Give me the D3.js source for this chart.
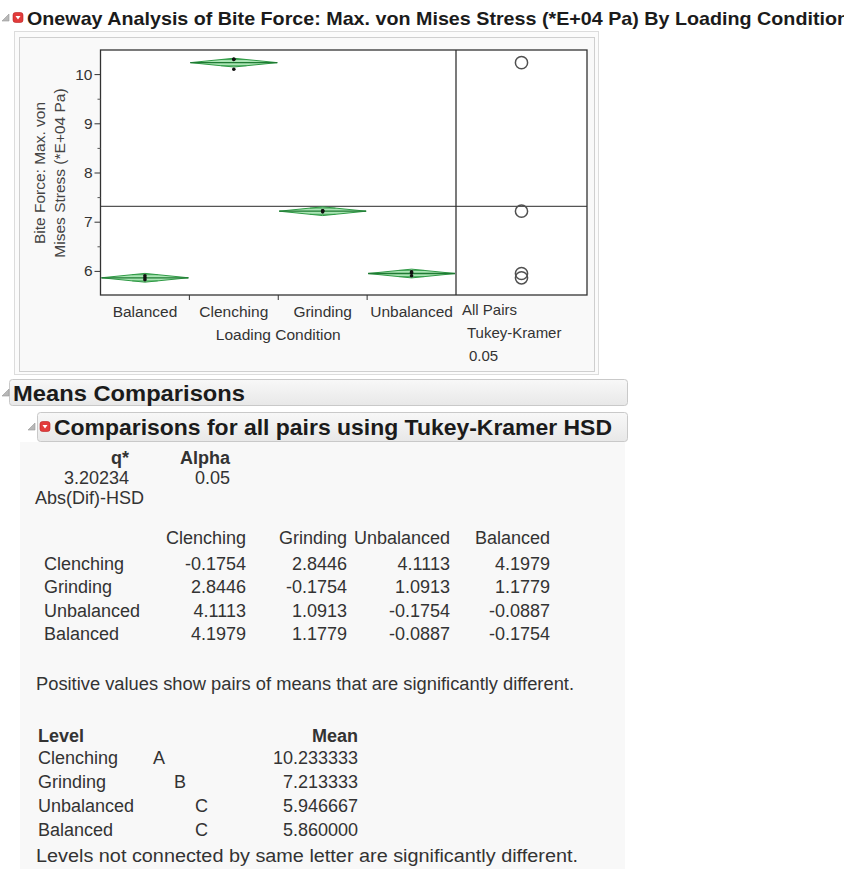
<!DOCTYPE html>
<html><head><meta charset="utf-8">
<script src="https://cdn.jsdelivr.net/npm/d3@7"></script>
<style>
html,body{margin:0;padding:0;background:#fff;}
svg{display:block;font-family:"Liberation Sans",Arial,sans-serif;}
</style></head><body>
<svg id="c" width="844" height="869"></svg>
<script>
// ---------- data ----------
const categories = ["Balanced", "Clenching", "Grinding", "Unbalanced"];
const groupMeans = [5.86, 10.233333, 7.213333, 5.946667];
const groupPoints = [[5.82, 5.86, 5.90], [10.3, 10.3, 10.1], [7.2, 7.22, 7.22], [5.9, 5.96, 5.98]];
const ciHalfWidth = [0.089, 0.089, 0.089, 0.089];
const grandMean = 7.313333;
const circleRadius = 0.124;
const yTicks = [6, 7, 8, 9, 10];
const yMinorTicks = [6.5, 7.5, 8.5, 9.5];
const yDomain = [5.51, 10.49];

const titleText = "Oneway Analysis of Bite Force: Max. von Mises Stress (*E+04 Pa) By Loading Condition";
const yLabelLines = ["Bite Force: Max. von", "Mises Stress (*E+04 Pa)"];
const xLabel = "Loading Condition";
const compLabels = ["All Pairs", "Tukey-Kramer", "0.05"];

const qHeaders = ["q*", "Alpha"];
const qValues = ["3.20234", "0.05"];
const hsdLevels = ["Clenching", "Grinding", "Unbalanced", "Balanced"];
const hsdMatrix = [
  [-0.1754, 2.8446, 4.1113, 4.1979],
  [2.8446, -0.1754, 1.0913, 1.1779],
  [4.1113, 1.0913, -0.1754, -0.0887],
  [4.1979, 1.1779, -0.0887, -0.1754]
];
const letterLevels = ["Clenching", "Grinding", "Unbalanced", "Balanced"];
const letters = ["A", "B", "C", "C"];
const letterCols = [0, 1, 2, 2];
const letterMeans = ["10.233333", "7.213333", "5.946667", "5.860000"];

// ---------- drawing ----------
const svg = d3.select("#c");
const defs = svg.append("defs");
const hg = defs.append("linearGradient").attr("id", "hdr").attr("x1", 0).attr("y1", 0).attr("x2", 0).attr("y2", 1);
hg.append("stop").attr("offset", "0").attr("stop-color", "#f8f8f8");
hg.append("stop").attr("offset", "1").attr("stop-color", "#e8e8e8");

function tri(x, y) { // disclosure triangle
  svg.append("path").attr("d", `M${x + 7},${y} L${x + 7},${y + 7} L${x},${y + 7} Z`)
    .attr("fill", "#b8b8b8").attr("stroke", "#999").attr("stroke-width", 0.6);
}
function redIcon(x, y) {
  svg.append("rect").attr("x", x).attr("y", y).attr("width", 10).attr("height", 10).attr("rx", 2.5)
    .attr("fill", "#e23b3b").attr("stroke", "#b22").attr("stroke-width", 0.6);
  svg.append("path").attr("d", `M${x + 2.5},${y + 3.5} L${x + 7.5},${y + 3.5} L${x + 5},${y + 7} Z`).attr("fill", "#fff");
}

// Title
tri(2, 14);
redIcon(13, 12.5);
svg.append("text").attr("x", 27).attr("y", 24.5).attr("font-size", 18.5).attr("font-weight", "bold")
  .attr("fill", "#1b1b1b").attr("textLength", 822).attr("lengthAdjust", "spacingAndGlyphs").text(titleText);

// Panel boxes
svg.append("rect").attr("x", 14.5).attr("y", 31.5).attr("width", 584).attr("height", 343)
  .attr("fill", "#fbfbfb").attr("stroke", "#dcdcdc");
svg.append("rect").attr("x", 19.5).attr("y", 37.5).attr("width", 575).attr("height", 334)
  .attr("fill", "#f9f9f9").attr("stroke", "#cfcfcf");

// Plot geometry
const L = 100.5, R = 456, R2 = 587, T = 50, B = 295;
const x = d3.scaleBand().domain(categories).range([L, R]).padding(0);
const y = d3.scaleLinear().domain(yDomain).range([B, T]);

svg.append("rect").attr("x", L).attr("y", T).attr("width", R2 - L).attr("height", B - T).attr("fill", "#fff");

// grand mean
svg.append("line").attr("x1", L).attr("x2", R2).attr("y1", y(grandMean)).attr("y2", y(grandMean))
  .attr("stroke", "#555").attr("stroke-width", 1.2);

// diamonds
const g = svg.append("g");
categories.forEach((c, i) => {
  const x0 = x(c) + 1, x1 = x(c) + x.bandwidth() - 1, xc = x(c) + x.bandwidth() / 2;
  const m = groupMeans[i], h = ciHalfWidth[i];
  g.append("path")
    .attr("d", `M${x0},${y(m)} L${xc},${y(m + h)} L${x1},${y(m)} L${xc},${y(m - h)} Z`)
    .attr("fill", "#8fdc9c").attr("fill-opacity", 0.75).attr("stroke", "#2f9a45").attr("stroke-width", 1);
  g.append("line").attr("x1", x0).attr("x2", x1).attr("y1", y(m)).attr("y2", y(m))
    .attr("stroke", "#1f7a33").attr("stroke-width", 1.3);
  const k = Math.SQRT1_2;
  [1, -1].forEach(s => {
    const hw = (x1 - x0) / 2 * (1 - k);
    g.append("line").attr("x1", xc - hw).attr("x2", xc + hw)
      .attr("y1", y(m + s * h * k)).attr("y2", y(m + s * h * k))
      .attr("stroke", "#2f9a45").attr("stroke-width", 0.8);
  });
  groupPoints[i].forEach(v => {
    g.append("circle").attr("cx", xc).attr("cy", y(v)).attr("r", 1.8).attr("fill", "#111");
  });
});

// comparison circles
const cx = (R + R2) / 2;
groupMeans.forEach(m => {
  svg.append("circle").attr("cx", cx).attr("cy", y(m)).attr("r", Math.abs(y(m + circleRadius) - y(m)))
    .attr("fill", "none").attr("stroke", "#505050").attr("stroke-width", 1.5);
});

// frame
svg.append("rect").attr("x", L).attr("y", T).attr("width", R2 - L).attr("height", B - T)
  .attr("fill", "none").attr("stroke", "#333").attr("stroke-width", 1.3);
svg.append("line").attr("x1", R).attr("x2", R).attr("y1", T).attr("y2", B).attr("stroke", "#333").attr("stroke-width", 1.3);

const cfs = 15.5;
// y axis
const ya = svg.append("g").attr("transform", `translate(${L},0)`)
  .call(d3.axisLeft(y).tickValues(yTicks).tickSize(6).tickPadding(2).tickFormat(d3.format("d")));
ya.select(".domain").remove();
ya.selectAll("line").attr("stroke", "#333");
ya.selectAll("text").attr("font-size", cfs).attr("fill", "#333").attr("font-family", "Liberation Sans, Arial, sans-serif");
const ym = svg.append("g").attr("transform", `translate(${L},0)`)
  .call(d3.axisLeft(y).tickValues(yMinorTicks).tickSize(3).tickFormat(""));
ym.select(".domain").remove();
ym.selectAll("line").attr("stroke", "#555");

// x axis labels
const xa = svg.append("g").attr("transform", `translate(0,${B})`)
  .call(d3.axisBottom(x).tickSize(0).tickPadding(11));
xa.select(".domain").remove();
xa.selectAll("text").attr("font-size", cfs).attr("fill", "#333").attr("font-family", "Liberation Sans, Arial, sans-serif");
categories.slice(1).forEach(c => {
  svg.append("line").attr("x1", x(c)).attr("x2", x(c)).attr("y1", B).attr("y2", B + 5).attr("stroke", "#333");
});
svg.append("text").attr("x", (L + R) / 2).attr("y", 340).attr("text-anchor", "middle")
  .attr("font-size", cfs).attr("fill", "#333").text(xLabel);

// y label
yLabelLines.forEach((t, i) => {
  svg.append("text").attr("transform", `translate(${39 + i * 20},173) rotate(-90)`)
    .attr("text-anchor", "middle").attr("dominant-baseline", "central")
    .attr("font-size", 15.5).attr("fill", "#444").text(t);
});

// comparison labels
[[462, 315], [467, 338], [469, 361]].forEach((p, i) => {
  svg.append("text").attr("x", p[0]).attr("y", p[1]).attr("font-size", 15).attr("fill", "#333").text(compLabels[i]);
});

// ---------- Means Comparisons ----------
svg.append("rect").attr("x", 20).attr("y", 442).attr("width", 605).attr("height", 427).attr("fill", "#f8f8f8");
svg.append("rect").attr("x", 9.5).attr("y", 379.5).attr("width", 618).attr("height", 26).attr("rx", 3)
  .attr("fill", "url(#hdr)").attr("stroke", "#c9c9c9");
tri(2, 389);
svg.append("text").attr("x", 13).attr("y", 401).attr("font-size", 22).attr("font-weight", "bold")
  .attr("fill", "#1b1b1b").attr("textLength", 232).attr("lengthAdjust", "spacingAndGlyphs").text("Means Comparisons");

svg.append("rect").attr("x", 37.5).attr("y", 412.5).attr("width", 590).attr("height", 29).attr("rx", 3)
  .attr("fill", "url(#hdr)").attr("stroke", "#c9c9c9");
tri(28, 423);
redIcon(40, 421.5);
svg.append("text").attr("x", 54).attr("y", 435).attr("font-size", 22).attr("font-weight", "bold")
  .attr("fill", "#1b1b1b").attr("textLength", 558).attr("lengthAdjust", "spacingAndGlyphs")
  .text("Comparisons for all pairs using Tukey-Kramer HSD");

const fs = 18, tc = "#333";
function txt(xp, yp, s, anchor, bold) {
  return svg.append("text").attr("x", xp).attr("y", yp).attr("font-size", fs).attr("fill", tc)
    .attr("text-anchor", anchor || "start").attr("font-weight", bold ? "bold" : "normal").text(s);
}
const fmt4 = v => v.toFixed(4);
// q* table
const qRight = [129, 230];
qHeaders.forEach((h, i) => txt(qRight[i], 464, h, "end", true));
qValues.forEach((v, i) => txt(qRight[i], 484, v, "end"));
txt(35, 503.5, "Abs(Dif)-HSD");

// HSD matrix
const colRight = [246, 347, 450, 550];
const rowY = [569.5, 593, 616.5, 640];
hsdLevels.forEach((c, j) => txt(colRight[j], 543.5, c, "end"));
hsdLevels.forEach((r, i) => {
  txt(44, rowY[i], r);
  hsdMatrix[i].forEach((v, j) => txt(colRight[j], rowY[i], fmt4(v), "end"));
});
txt(36, 689.5, "Positive values show pairs of means that are significantly different.")
  .attr("textLength", 538).attr("lengthAdjust", "spacingAndGlyphs");

// letters report
txt(38, 741.5, "Level", "start", true);
txt(358, 741.5, "Mean", "end", true);
const lrY = [763.5, 787.5, 811.5, 835.5];
letterLevels.forEach((l, i) => {
  txt(38, lrY[i], l);
  txt(153 + letterCols[i] * 21, lrY[i], letters[i]);
  txt(358, lrY[i], letterMeans[i], "end");
});
txt(36, 861.5, "Levels not connected by same letter are significantly different.")
  .attr("textLength", 542).attr("lengthAdjust", "spacingAndGlyphs");
</script>
</body></html>
